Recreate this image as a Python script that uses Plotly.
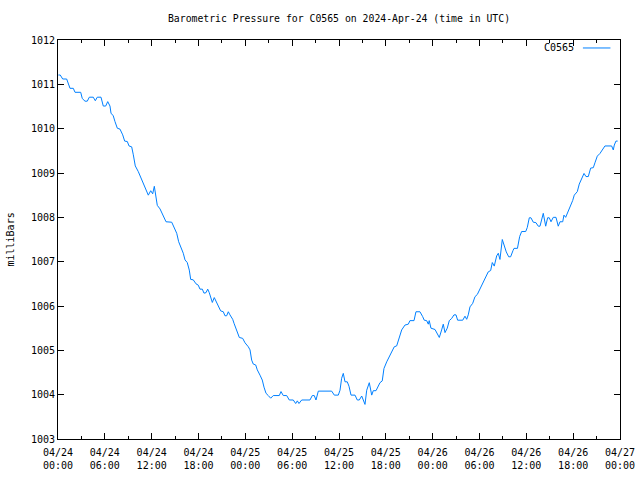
import pandas as pd
import plotly.graph_objects as go

# hours since 2024-04-24 00:00 UTC
hours = [0.05, 0.29, 0.60, 1.11, 1.54, 1.96, 2.18, 2.91, 3.11, 3.46, 3.75, 4.01, 4.52, 4.78, 5.03, 5.51,
         5.80, 6.11, 6.37, 6.66, 6.79, 7.08, 7.30, 7.60, 7.94, 8.29, 8.54, 8.88, 9.10, 9.44, 9.65, 9.90,
         10.29, 10.72, 11.15, 11.57, 11.88, 12.13, 12.34, 12.55, 12.72, 13.07, 13.49, 13.84, 14.57, 14.86,
         15.21, 15.46, 15.76, 16.05, 16.27, 16.56, 16.82, 17.00, 17.33, 17.68, 17.97, 18.19, 18.49, 18.70,
         18.96, 19.18, 19.38, 19.60, 19.77, 20.02, 20.33, 20.54, 20.84, 21.18, 21.39, 21.61, 21.82, 22.03,
         22.38, 22.55, 22.89, 23.23, 23.66, 23.96, 24.38, 24.60, 24.81, 25.02, 25.33, 25.53, 25.88, 26.17,
         26.39, 26.65, 26.94, 27.25, 27.58, 28.35, 28.57, 28.86, 29.30, 29.63, 30.14, 30.45, 30.66, 30.87,
         31.22, 32.28, 32.58, 32.83, 33.05, 33.35, 35.06, 35.40, 35.91, 36.13, 36.34, 36.55, 36.77, 37.06,
         37.28, 37.54, 38.05, 38.34, 38.60, 38.91, 39.11, 39.33, 39.55, 39.88, 40.19, 40.39, 40.74, 41.03,
         41.25, 41.54, 41.76, 42.11, 42.44, 42.75, 43.08, 43.39, 43.59, 44.03, 44.45, 44.88, 45.09, 45.61,
         45.86, 46.37, 46.72, 46.92, 47.23, 47.44, 47.56, 47.78, 48.30, 48.59, 48.85, 49.15, 49.36, 49.58,
         49.87, 50.13, 50.44, 50.73, 50.99, 51.20, 51.85, 52.14, 52.36, 52.56, 52.78, 53.13, 53.42, 53.72,
         54.06, 54.48, 54.83, 55.12, 55.43, 55.64, 55.89, 56.20, 56.41, 56.62, 56.92, 57.14, 57.43, 57.74,
         57.99, 58.29, 58.42, 58.86, 59.15, 59.40, 59.92, 60.12, 60.38, 60.59, 60.89, 61.23, 61.53, 61.75,
         61.96, 62.17, 62.48, 62.73, 62.94, 63.16, 63.45, 63.80, 64.09, 64.31, 64.66, 64.82, 65.04, 65.37,
         65.68, 65.94, 66.14, 66.53, 66.78, 67.09, 67.39, 67.64, 67.94, 68.24, 68.58, 68.79, 69.09, 69.43,
         69.73, 70.07, 70.93, 71.14, 71.27, 71.48, 71.70]

pressure = [1011.21, 1011.21, 1011.12, 1011.12, 1010.91, 1010.91, 1010.82, 1010.82, 1010.68, 1010.62, 1010.62,
            1010.71, 1010.71, 1010.63, 1010.71, 1010.71, 1010.51, 1010.51, 1010.61, 1010.51, 1010.35, 1010.29,
            1010.16, 1010.01, 1009.99, 1009.86, 1009.72, 1009.71, 1009.61, 1009.59, 1009.41, 1009.16, 1009.03,
            1008.84, 1008.69, 1008.50, 1008.60, 1008.53, 1008.70, 1008.39, 1008.27, 1008.19, 1008.01, 1007.90,
            1007.89, 1007.78, 1007.64, 1007.45, 1007.32, 1007.19, 1007.04, 1006.98, 1006.81, 1006.60, 1006.59,
            1006.50, 1006.47, 1006.38, 1006.38, 1006.29, 1006.30, 1006.38, 1006.30, 1006.15, 1006.08, 1006.19,
            1006.07, 1005.98, 1005.89, 1005.87, 1005.78, 1005.78, 1005.87, 1005.80, 1005.70, 1005.61, 1005.46,
            1005.29, 1005.27, 1005.17, 1005.08, 1005.01, 1004.78, 1004.69, 1004.67, 1004.56, 1004.44, 1004.33,
            1004.17, 1004.03, 1003.98, 1003.92, 1003.98, 1003.98, 1004.07, 1003.98, 1003.98, 1003.88, 1003.88,
            1003.80, 1003.86, 1003.80, 1003.88, 1003.88, 1003.98, 1003.98, 1003.88, 1004.08, 1004.08, 1003.99,
            1003.99, 1004.10, 1004.37, 1004.48, 1004.29, 1004.29, 1004.19, 1003.99, 1003.99, 1003.88, 1003.88,
            1003.97, 1003.88, 1003.78, 1004.10, 1004.27, 1003.99, 1004.09, 1004.09, 1004.18, 1004.27, 1004.31,
            1004.59, 1004.74, 1004.86, 1004.97, 1005.08, 1005.10, 1005.22, 1005.46, 1005.57, 1005.59, 1005.67,
            1005.67, 1005.87, 1005.87, 1005.76, 1005.68, 1005.67, 1005.59, 1005.67, 1005.50, 1005.47, 1005.38,
            1005.29, 1005.46, 1005.59, 1005.40, 1005.50, 1005.67, 1005.72, 1005.80, 1005.80, 1005.68, 1005.68,
            1005.77, 1005.70, 1005.80, 1005.98, 1006.06, 1006.21, 1006.26, 1006.38, 1006.53, 1006.65, 1006.77,
            1006.80, 1006.98, 1006.90, 1007.13, 1007.19, 1007.05, 1007.50, 1007.38, 1007.22, 1007.11, 1007.11,
            1007.25, 1007.30, 1007.30, 1007.57, 1007.68, 1007.68, 1007.77, 1007.99, 1007.99, 1007.89, 1007.88,
            1007.80, 1007.80, 1007.94, 1008.09, 1007.80, 1007.99, 1007.99, 1007.90, 1008.00, 1008.00, 1007.80,
            1007.90, 1007.90, 1008.05, 1008.00, 1008.13, 1008.26, 1008.38, 1008.50, 1008.58, 1008.75, 1008.86,
            1008.99, 1008.92, 1008.92, 1009.11, 1009.12, 1009.23, 1009.38, 1009.44, 1009.52, 1009.61, 1009.61,
            1009.52, 1009.63, 1009.72, 1009.72]

tick_hours = [0, 6, 12, 18, 24, 30, 36, 42, 48, 54, 60, 66, 72]
tick_labels = ["04/24<br>00:00", "04/24<br>06:00", "04/24<br>12:00", "04/24<br>18:00",
               "04/25<br>00:00", "04/25<br>06:00", "04/25<br>12:00", "04/25<br>18:00",
               "04/26<br>00:00", "04/26<br>06:00", "04/26<br>12:00", "04/26<br>18:00",
               "04/27<br>00:00"]
y_ticks = [1003, 1004, 1005, 1006, 1007, 1008, 1009, 1010, 1011, 1012]

start = pd.Timestamp("2024-04-24 00:00")
times = [start + pd.Timedelta(hours=h) for h in hours]
tick_times = [start + pd.Timedelta(hours=h) for h in tick_hours]

LINE = "#0080ff"
FONT = "DejaVu Sans Mono"

fig = go.Figure()
fig.add_trace(go.Scatter(x=times, y=pressure, mode="lines", name="C0565",
                         line=dict(color=LINE, width=1), showlegend=False))

fig.update_layout(
    width=640, height=480,
    margin=dict(l=58, r=20, t=40, b=41),
    paper_bgcolor="white", plot_bgcolor="white",
    font=dict(family=FONT, size=10, color="black"),
    title=dict(text="Barometric Pressure for C0565 on 2024-Apr-24 (time in UTC)",
               xref="paper", x=0.5, xanchor="center", y=1 - 19 / 480, yanchor="middle",
               font=dict(family=FONT, size=9.8, color="black")),
    xaxis=dict(range=[start, start + pd.Timedelta(hours=72)],
               tickvals=tick_times, ticktext=tick_labels, automargin=False,
               ticks="inside", ticklen=6, tickcolor="black", tickwidth=1,
               ticklabelstandoff=4,
               mirror="allticks", showline=True, linecolor="black", linewidth=1,
               showgrid=False, zeroline=False,
               minor=dict(ticks="inside", dtick=3 * 3600 * 1000, ticklen=3,
                          tickcolor="black", showgrid=False),
               tickfont=dict(family=FONT, size=10)),
    yaxis=dict(range=[1003, 1012], tickvals=y_ticks, automargin=False,
               ticks="inside", ticklen=6, tickcolor="black", tickwidth=1,
               mirror="allticks", showline=True, linecolor="black", linewidth=1,
               showgrid=False, zeroline=False,
               tickfont=dict(family=FONT, size=10)),
)

# y-axis title placed like gnuplot's
fig.add_annotation(xref="paper", yref="paper", x=(10 - 58) / 562, y=0.5, xanchor="center",
                   yanchor="middle", text="milliBars", textangle=-90, showarrow=False,
                   font=dict(family=FONT, size=10, color="black"))

# legend key in gnuplot style: text then line sample
fig.add_annotation(xref="paper", yref="paper", x=0.921, y=0.98, xanchor="right", yanchor="middle",
                   text="C0565", showarrow=False, font=dict(family=FONT, size=10, color="black"))
fig.add_shape(type="line", xref="paper", yref="paper", x0=0.934, x1=0.983, y0=0.98, y1=0.98,
              line=dict(color=LINE, width=1))

fig.write_html("out.html")
